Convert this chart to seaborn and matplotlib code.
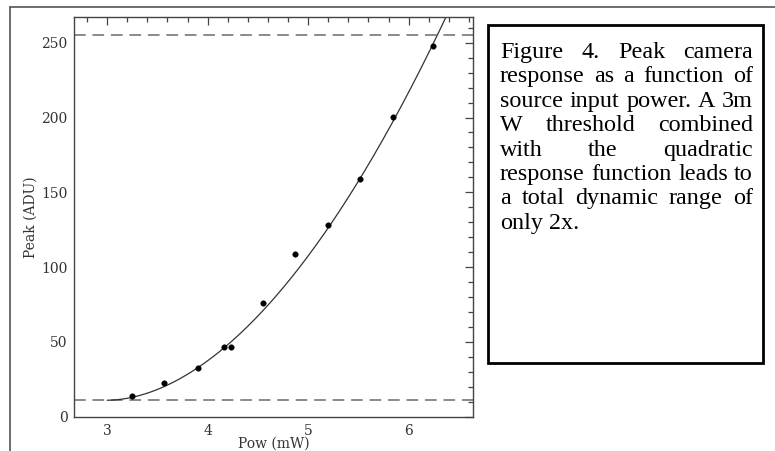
import numpy as np
import pandas as pd
import matplotlib
matplotlib.use("Agg")
import matplotlib.pyplot as plt
from matplotlib.lines import Line2D
from matplotlib.patches import Rectangle
from matplotlib.ticker import MultipleLocator
import seaborn as sns

# ---- data ----
power_mw = [3.25, 3.57, 3.90, 4.16, 4.23, 4.55, 4.87, 5.20, 5.52, 5.84, 6.24]
peak_adu = [14.0, 22.7, 32.8, 46.4, 46.4, 75.8, 109.0, 128.0, 159.0, 200.5, 248.0]

# fitted response model shown as the solid curve
threshold_mw = 3.0
floor_adu = 11.0
gain = 26.4
exponent = 1.87
saturation_adu = 255.0

x_ticks = [3, 4, 5, 6]
y_ticks = [0, 50, 100, 150, 200, 250]
x_label = "Pow (mW)"
y_label = "Peak (ADU)"
caption_lines = [
    "Figure 4. Peak camera",
    "response as a function of",
    "source input power. A 3m",
    "W threshold combined",
    "with the quadratic",
    "response function leads to",
    "a total dynamic range of",
    "only 2x.",
]

sns.set_style("white")
plt.rcParams["font.family"] = ["DejaVu Serif", "DejaVu Sans"]

W, H = 775, 451
fig = plt.figure(figsize=(W / 100, H / 100), dpi=100)
fig.patch.set_facecolor("white")

def fx(px):
    return px / W

def fy(py):
    return 1 - py / H

ax_l, ax_r, ax_t, ax_b = 74, 473, 17.3, 416.7
ax = fig.add_axes([fx(ax_l), fy(ax_b), fx(ax_r - ax_l), (ax_b - ax_t) / H])

xmin, xmax = 2.67, 6.64
ymin, ymax = 0, 267

# curve
xc = np.linspace(threshold_mw, 6.5, 300)
yc = floor_adu + gain * (xc - threshold_mw) ** exponent
curve = pd.DataFrame({"x": xc, "y": yc})
sns.lineplot(data=curve, x="x", y="y", ax=ax, color="#333333", linewidth=0.9, sort=False)

# reference levels
for lvl in [saturation_adu, floor_adu]:
    ax.axhline(lvl, color="#8a8a8a", linewidth=1.4, dashes=(6, 3.5), zorder=1)

df = pd.DataFrame({"pow": power_mw, "peak": peak_adu})
sns.scatterplot(data=df, x="pow", y="peak", ax=ax, color="black", s=16,
                edgecolor="black", linewidth=0.3, zorder=5)

lab_size = 10
ax.set_xlim(xmin, xmax)
ax.set_ylim(ymin, ymax)
ax.set_xticks(x_ticks)
ax.set_yticks(y_ticks)
ax.xaxis.set_minor_locator(MultipleLocator(0.2))
ax.yaxis.set_minor_locator(MultipleLocator(10))
ax.tick_params(which="both", direction="in", top=True, right=True, color="#444444",
               labelsize=lab_size, labelcolor="#333333")
ax.tick_params(which="major", length=6, width=0.9)
ax.tick_params(which="minor", length=3.5, width=0.9)
ax.tick_params(axis="x", which="major", pad=5.0)
ax.tick_params(axis="y", which="major", pad=4.5)
for sp in ax.spines.values():
    sp.set_color("#444444")
    sp.set_linewidth(1.0)
ax.set_xlabel(x_label, fontsize=lab_size, color="#333333")
ax.set_ylabel(y_label, fontsize=lab_size, color="#333333")
ax.xaxis.set_label_coords(0.5, -0.05)
ax.yaxis.set_label_coords(-0.09, 0.5)

# outer frame (top and left edges visible)
fig.add_artist(Line2D([fx(10), fx(W + 5)], [fy(7), fy(7)], color="#555555", linewidth=1.2))
fig.add_artist(Line2D([fx(10), fx(10)], [fy(7), fy(H + 5)], color="#555555", linewidth=1.2))

# caption box
bx_l, bx_r, bx_t, bx_b = 487.7, 763, 25, 362.7
fig.add_artist(Rectangle((fx(bx_l), fy(bx_b)), fx(bx_r - bx_l), (bx_b - bx_t) / H,
                         fill=False, edgecolor="black", linewidth=2.0))

# justified caption text
text_l, text_r = 500, 753
base0 = 58
line_step = 24.4
fig.canvas.draw()
renderer = fig.canvas.get_renderer()

# pick size so the naturally full line fits the column
probe = fig.text(0, 0, caption_lines[5], family="Liberation Serif", fontsize=15)
natural = probe.get_window_extent(renderer).width
probe.remove()
cap_size = 15 * (text_r - text_l) / natural
cap_font = dict(family="Liberation Serif", fontsize=cap_size, color="black")

sp1 = fig.text(0, 0, "a b", **cap_font)
sp2 = fig.text(0, 0, "ab", **cap_font)
normal_gap = sp1.get_window_extent(renderer).width - sp2.get_window_extent(renderer).width
sp1.remove()
sp2.remove()

for i, line in enumerate(caption_lines):
    words = line.split()
    base_y = base0 + i * line_step
    objs = [fig.text(0, 0, w, va="baseline", ha="left", **cap_font) for w in words]
    widths = [o.get_window_extent(renderer).width for o in objs]
    last = i == len(caption_lines) - 1
    if last or len(words) == 1:
        gap = normal_gap
    else:
        gap = (text_r - text_l - sum(widths)) / (len(words) - 1)
    x = text_l
    for o, w in zip(objs, widths):
        o.set_position((fx(x), fy(base_y)))
        x += w + gap

fig.savefig("out.png", dpi=100, facecolor="white")
